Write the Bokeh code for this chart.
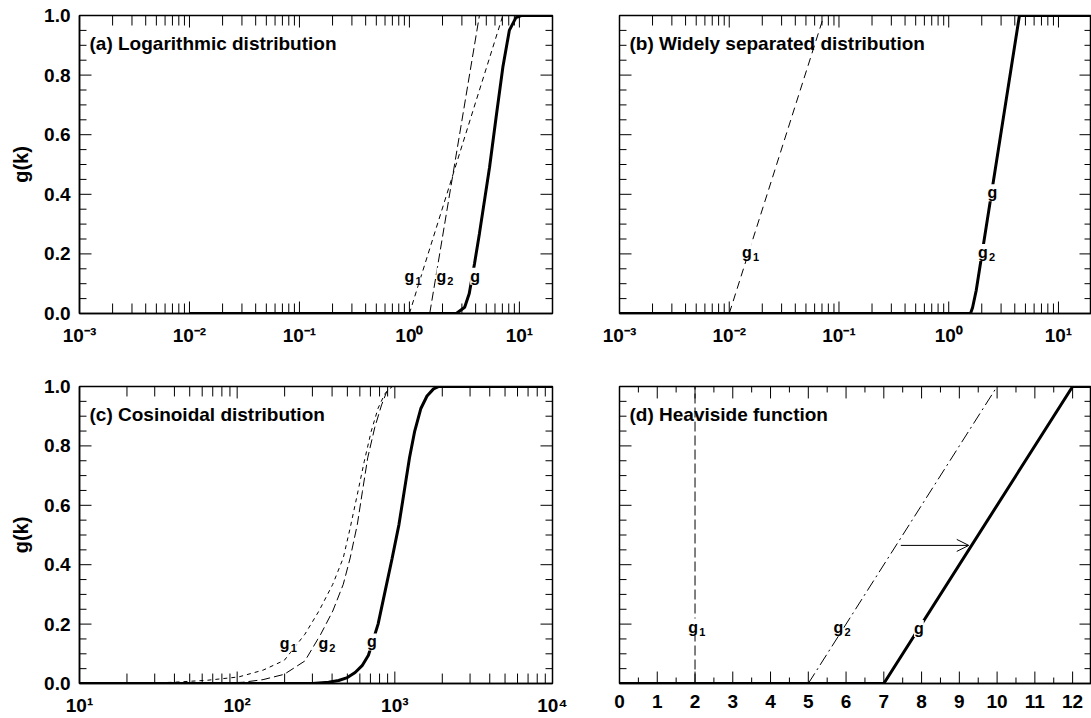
import math
from bokeh.plotting import figure
from bokeh.layouts import row, column
from bokeh.models import (Range1d, FixedTicker, PrintfTickFormatter, CustomJSTickFormatter,
                          Label, Arrow, OpenHead)
from bokeh.embed import file_html
from bokeh.resources import INLINE

FONT = "Liberation Sans"

# ---------------- data ----------------
# (a) Logarithmic distribution
a_g_x = [0.01, 2.67, 3.18, 3.5, 3.91, 4.33, 5.35, 6.15, 7.07, 8.1, 9.3, 10.4, 20.0]
a_g_y = [0.0, 0.0, 0.021, 0.067, 0.168, 0.268, 0.49, 0.66, 0.826, 0.95, 0.993, 1.0, 1.0]
a_g1_x = [1.0, 7.07, 20.0]
a_g1_y = [0.0, 1.0, 1.0]
a_g2_x = [1.53, 4.33, 20.0]
a_g2_y = [0.0, 1.0, 1.0]
a_lab_x = [1.0, 1.95, 3.95]
a_lab_y = [0.125, 0.125, 0.125]

# (b) Widely separated distribution
b_g_x = [0.001, 1.58, 1.65, 1.78, 4.41, 20.0]
b_g_y = [0.0, 0.0, 0.02, 0.077, 1.0, 1.0]
b_g1_x = [0.01, 0.073, 20.0]
b_g1_y = [0.0, 1.0, 1.0]
b_lab_x = [0.0145, 2.05, 2.5]
b_lab_y = [0.205, 0.205, 0.405]

# (c) Cosinoidal distribution
c_g_x = [10, 300, 380, 440, 500, 560, 620, 680, 783, 867, 960, 1062, 1147, 1239, 1337, 1460, 1600, 1760, 1905, 10000]
c_g_y = [0.0, 0.0, 0.004, 0.01, 0.02, 0.037, 0.06, 0.095, 0.20, 0.31, 0.42, 0.535, 0.647, 0.76, 0.85, 0.925, 0.968, 0.992, 1.0, 1.0]
c_g1_x = [10, 23.5, 39, 65, 102, 146, 199, 269, 330, 404, 471, 521, 578, 640, 708, 783, 867, 960, 10000]
c_g1_y = [0.0, 0.001, 0.004, 0.011, 0.022, 0.045, 0.078, 0.166, 0.244, 0.334, 0.423, 0.524, 0.636, 0.748, 0.849, 0.927, 0.977, 1.0, 1.0]
c_g2_x = [10, 65, 108, 146, 199, 269, 339, 404, 471, 521, 578, 623, 673, 745, 824, 889, 960, 10000]
c_g2_y = [0.0, 0.0, 0.004, 0.013, 0.031, 0.076, 0.166, 0.244, 0.334, 0.423, 0.535, 0.647, 0.76, 0.861, 0.938, 0.983, 1.0, 1.0]
c_lab_x = [200, 352, 716]
c_lab_y = [0.135, 0.135, 0.14]

# (d) Heaviside function
d_g_x = [0, 7, 12, 12.5]
d_g_y = [0.0, 0.0, 1.0, 1.0]
d_g1_x = [2, 2]
d_g1_y = [0.0, 1.0]
d_g2_x = [5, 10, 12.5]
d_g2_y = [0.0, 1.0, 1.0]
d_lab_x = [1.95, 5.8, 7.93]
d_lab_y = [0.19, 0.19, 0.185]
d_arrow = [7.45, 9.25, 0.465]

lab_main = ["g", "g", "g"]
lab_sub = ["1", "2", ""]
titles = ["(a) Logarithmic distribution", "(b) Widely separated distribution",
          "(c) Cosinoidal distribution", "(d) Heaviside function"]

y_major = [0.0, 0.2, 0.4, 0.6, 0.8, 1.0]
y_minor = [round(0.05 * i, 2) for i in range(21) if i % 4 != 0]

log_maj_ab = [1e-3, 1e-2, 1e-1, 1.0, 10.0]
log_min_ab = [m * 10.0 ** e for e in range(-3, 2) for m in range(2, 10) if m * 10.0 ** e <= 20]
log_maj_c = [10.0, 100.0, 1000.0, 10000.0]
log_min_c = [m * 10.0 ** e for e in range(1, 4) for m in range(2, 10)]
lin_maj_d = list(range(0, 13))
lin_min_d = [0.5 * i for i in range(1, 26, 2)]

TICK_FS = "19px"

LOG_FMT_CODE = """
const sup = {'-':'\u207b','0':'\u2070','1':'\u00b9','2':'\u00b2','3':'\u00b3','4':'\u2074',
             '5':'\u2075','6':'\u2076','7':'\u2077','8':'\u2078','9':'\u2079'};
const e = Math.round(Math.log10(tick));
return '10' + String(e).split('').map(c => sup[c]).join('');
"""


def make_fig(xtype, xr, width, height, mbl, mbr, mbt, mbb, xmaj, xmin,
             xmaj_len, xmin_len, ylabels):
    p = figure(x_axis_type=xtype, x_range=Range1d(*xr), y_range=Range1d(0, 1),
               width=width, height=height, output_backend="svg", toolbar_location=None,
               min_border_left=mbl, min_border_right=mbr, min_border_top=mbt,
               min_border_bottom=mbb, x_axis_location="below",
               y_axis_location="left" if ylabels else None)
    p.grid.visible = False
    p.outline_line_color = "black"
    p.outline_line_width = 1.5

    if ylabels:
        ly = p.yaxis[0]
        ly.ticker = FixedTicker(ticks=y_major, minor_ticks=[])
        ly.formatter = PrintfTickFormatter(format="%.1f")
        ly.major_tick_in = ly.major_tick_out = ly.minor_tick_in = ly.minor_tick_out = 0
        ly.axis_line_width = 1.5
        ly.major_label_standoff = 9
        ly.major_label_text_font = FONT
        ly.major_label_text_font_style = "bold"
        ly.major_label_text_font_size = TICK_FS
        ly.major_label_text_color = "black"
        ly.axis_label = "g(k)"
        ly.axis_label_text_font = FONT
        ly.axis_label_text_font_style = "bold"
        ly.axis_label_text_font_size = "20px"
        ly.axis_label_text_color = "black"
        ly.axis_label_standoff = 9

    bx = p.xaxis[0]
    bx.ticker = FixedTicker(ticks=xmaj, minor_ticks=[])
    if xtype == "log":
        bx.formatter = CustomJSTickFormatter(code=LOG_FMT_CODE)
    else:
        bx.formatter = PrintfTickFormatter(format="%d")
    bx.major_tick_in = bx.major_tick_out = bx.minor_tick_in = bx.minor_tick_out = 0
    bx.axis_line_width = 1.5
    bx.major_label_standoff = 11
    bx.major_label_text_font = FONT
    bx.major_label_text_font_style = "bold"
    bx.major_label_text_font_size = TICK_FS
    bx.major_label_text_color = "black"

    # inward tick marks on all four sides
    wf = width - mbl - mbr
    hf = height - mbt - mbb
    lo, hi = xr
    if xtype == "log":
        k = wf / (math.log10(hi) - math.log10(lo))
        lend = lambda L: lo * 10 ** (L / k)
        rend = lambda L: hi / 10 ** (L / k)
    else:
        k = wf / (hi - lo)
        lend = lambda L: lo + L / k
        rend = lambda L: hi - L / k
    for vals, L in ((y_major, 12), (y_minor, 7)):
        n = len(vals)
        p.segment(x0=[lo] * n, y0=vals, x1=[lend(L)] * n, y1=vals, line_color="black", line_width=1)
        p.segment(x0=[hi] * n, y0=vals, x1=[rend(L)] * n, y1=vals, line_color="black", line_width=1)
    for vals, L in ((xmaj, xmaj_len), (xmin, xmin_len)):
        n = len(vals)
        p.segment(x0=vals, y0=[0] * n, x1=vals, y1=[L / hf] * n, line_color="black", line_width=1)
        p.segment(x0=vals, y0=[1] * n, x1=vals, y1=[1 - L / hf] * n, line_color="black", line_width=1)
    return p


def add_curve_labels(p, xs, ys):
    for x, y, t, s in zip(xs, ys, lab_main, lab_sub):
        p.add_layout(Label(x=x, y=y, text=t, text_align="center", text_baseline="middle",
                           text_font=FONT, text_font_style="bold", text_font_size="16px",
                           text_color="black", background_fill_color="white",
                           background_fill_alpha=1.0))
        if s:
            p.add_layout(Label(x=x, y=y, text=s, text_align="left", text_baseline="middle",
                               x_offset=6, y_offset=-5, text_font=FONT, text_font_style="bold",
                               text_font_size="11px", text_color="black",
                               background_fill_color="white", background_fill_alpha=1.0))


def add_title(p, x, text):
    p.add_layout(Label(x=x, y=0.906, text=text, text_align="left", text_baseline="middle",
                       text_font=FONT, text_font_style="bold", text_font_size="19px",
                       text_color="black"))


W_L, W_R = 580, 511
MBL_L, MBR_L = 79, 28
MBL_R, MBR_R = 39, 0
XR_AB = (1e-3, 20)
XR_C = (10, 10000)
XR_D = (0, 12.5)

# (a)
pa = make_fig("log", XR_AB, W_L, 358, MBL_L, MBR_L, 15, 45, log_maj_ab, log_min_ab, 12, 10, True)
pa.line(a_g1_x, a_g1_y, line_color="black", line_width=1, line_dash="5 4")
pa.line(a_g2_x, a_g2_y, line_color="black", line_width=1, line_dash="9 4")
pa.line(a_g_x, a_g_y, line_color="black", line_width=3)
add_curve_labels(pa, a_lab_x, a_lab_y)
add_title(pa, 1.233e-3, titles[0])

# (b)
pb = make_fig("log", XR_AB, W_R, 358, MBL_R, MBR_R, 15, 45, log_maj_ab, log_min_ab, 12, 10, False)
pb.line(b_g1_x, b_g1_y, line_color="black", line_width=1, line_dash="8 5")
pb.line(b_g_x, b_g_y, line_color="black", line_width=3)
add_curve_labels(pb, b_lab_x, b_lab_y)
add_title(pb, 1.233e-3, titles[1])

# (c)
pc = make_fig("log", XR_C, W_L, 360, MBL_L, MBR_L, 28, 34, log_maj_c, log_min_c, 12, 10, True)
pc.line(c_g1_x, c_g1_y, line_color="black", line_width=1, line_dash="4 4")
pc.line(c_g2_x, c_g2_y, line_color="black", line_width=1, line_dash="9 4")
pc.line(c_g_x, c_g_y, line_color="black", line_width=3)
add_curve_labels(pc, c_lab_x, c_lab_y)
add_title(pc, 11.57, titles[2])

# (d)
pd_ = make_fig("linear", XR_D, W_R, 360, MBL_R, MBR_R, 28, 34, lin_maj_d, lin_min_d, 12, 6, False)
pd_.line(d_g1_x, d_g1_y, line_color="black", line_width=1, line_dash="10 4")
pd_.line(d_g2_x, d_g2_y, line_color="black", line_width=1, line_dash="12 4 2 4")
pd_.line(d_g_x, d_g_y, line_color="black", line_width=3)
pd_.add_layout(Arrow(end=OpenHead(size=12, line_width=1, line_color="black"),
                     x_start=d_arrow[0], y_start=d_arrow[2], x_end=d_arrow[1], y_end=d_arrow[2],
                     line_width=1, line_color="black"))
add_curve_labels(pd_, d_lab_x, d_lab_y)
add_title(pd_, 0.265, titles[3])

layout = column(row(pa, pb), row(pc, pd_))

open("out.html", "w").write(file_html(layout, INLINE))
